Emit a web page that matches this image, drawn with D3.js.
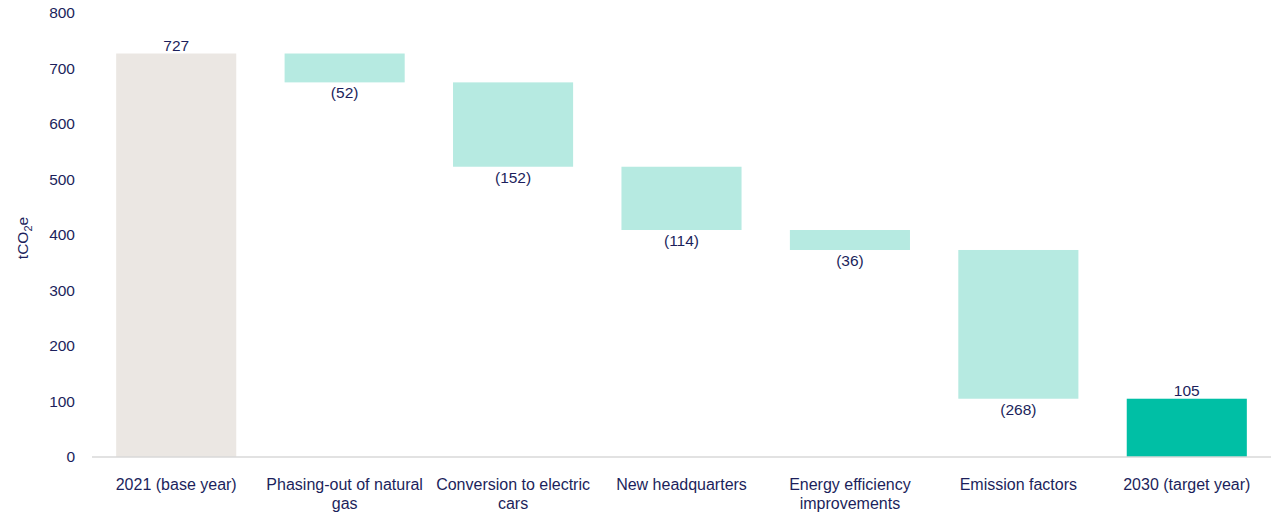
<!DOCTYPE html>
<html>
<head>
<meta charset="utf-8">
<script src="https://cdn.jsdelivr.net/npm/d3@7"></script>
<style>
  body { margin: 0; background: #fff; }
  svg text { font-family: "Liberation Sans", Arial, sans-serif; fill: #1c1f5c; }
</style>
</head>
<body>
<svg id="chart" width="1276" height="512"></svg>
<script>
// Emission bridge from base year to target year (tCO2e)
const categories = [
  ["2021 (base year)"],
  ["Phasing-out of natural", "gas"],
  ["Conversion to electric", "cars"],
  ["New headquarters"],
  ["Energy efficiency", "improvements"],
  ["Emission factors"],
  ["2030 (target year)"]
];
const values = [727, -52, -152, -114, -36, -268, 105];
const kinds = ["total", "delta", "delta", "delta", "delta", "delta", "total"];
const yTicks = [0, 100, 200, 300, 400, 500, 600, 700, 800];

const colors = { base: "#ebe7e3", delta: "#b6eae1", target: "#00bfa5" };

const svg = d3.select("#chart");
const margin = { left: 92, right: 5, top: 13, bottom: 55 };
const W = 1276, H = 512;
const FS = 15.5;

const x = d3.scaleBand()
  .domain(d3.range(categories.length))
  .range([margin.left, W - margin.right])
  .paddingInner(0.287)
  .paddingOuter(0.1435);

const y = d3.scaleLinear().domain([0, 800]).range([H - margin.bottom, margin.top]);

// Build floating segments: running total for deltas
let running = 0;
const bars = values.map((v, i) => {
  let lo, hi;
  if (kinds[i] === "total") { lo = 0; hi = v; running = v; }
  else { hi = running; lo = running + v; running = lo; }
  const color = kinds[i] === "delta" ? colors.delta : (i === 0 ? colors.base : colors.target);
  return { i, v, lo, hi, kind: kinds[i], color };
});

// Y axis tick labels
svg.append("g")
  .selectAll("text")
  .data(yTicks)
  .join("text")
  .attr("x", 75)
  .attr("y", d => y(d))
  .attr("dy", "0.35em")
  .attr("text-anchor", "end")
  .attr("font-size", FS)
  .text(d => d);

// Y axis title with subscript
const yt = svg.append("text")
  .attr("transform", `translate(28,${y(400) + 3}) rotate(-90)`)
  .attr("text-anchor", "middle")
  .attr("font-size", FS);
yt.append("tspan").text("tCO");
yt.append("tspan").attr("font-size", 11).attr("dy", 4).text("2");
yt.append("tspan").attr("dy", -4).text("e");

// Bars
svg.append("g")
  .selectAll("rect")
  .data(bars)
  .join("rect")
  .attr("x", d => x(d.i))
  .attr("width", x.bandwidth())
  .attr("y", d => y(d.hi))
  .attr("height", d => y(d.lo) - y(d.hi))
  .attr("fill", d => d.color);

// Baseline
svg.append("line")
  .attr("x1", margin.left).attr("x2", W - margin.right)
  .attr("y1", y(0)).attr("y2", y(0))
  .attr("stroke", "#d9d9d9").attr("stroke-width", 1.5);

// Value labels
svg.append("g")
  .selectAll("text")
  .data(bars)
  .join("text")
  .attr("x", d => x(d.i) + x.bandwidth() / 2)
  .attr("y", d => d.kind === "total" ? y(d.hi) - 3 : y(d.lo) + 16)
  .attr("text-anchor", "middle")
  .attr("font-size", FS)
  .text(d => d.kind === "total" ? d.v : `(${Math.abs(d.v)})`);

// Category labels
const cat = svg.append("g")
  .selectAll("text")
  .data(categories)
  .join("text")
  .attr("x", (d, i) => x(i) + x.bandwidth() / 2)
  .attr("y", 490)
  .attr("text-anchor", "middle")
  .attr("font-size", 16);
cat.selectAll("tspan")
  .data((d, i) => d.map(t => ({ t, i })))
  .join("tspan")
  .attr("x", d => x(d.i) + x.bandwidth() / 2)
  .attr("dy", (d, j) => j === 0 ? 0 : 18.5)
  .text(d => d.t);
</script>
</body>
</html>
